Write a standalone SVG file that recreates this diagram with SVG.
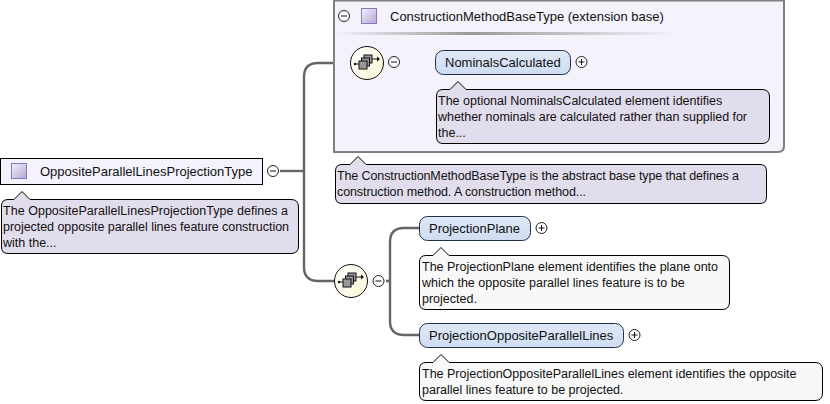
<svg xmlns="http://www.w3.org/2000/svg" width="830" height="404" viewBox="0 0 830 404">
<style>
text{font-family:"Liberation Sans",Arial,sans-serif;font-size:13px;fill:#111}
text.d{font-size:12.5px}
.doc{fill:#e2dded;stroke:#000;stroke-width:1}
.wdoc{fill:#f8f8f8;stroke:#000;stroke-width:1}
.el{fill:url(#elg);stroke:#1f2f4a;stroke-width:1}
.conn{fill:none;stroke:#666;stroke-width:2.4}
.thin{fill:none;stroke:#888;stroke-width:1}
.tg{fill:#fff;stroke:#222;stroke-width:1}
.tl{stroke:#111;stroke-width:1;fill:none}
.sq{fill:url(#sqg);stroke:#8a78b8;stroke-width:1}
.seq{fill:url(#seqg);stroke:#111;stroke-width:1}
.ic{fill:#999;stroke:#111;stroke-width:1}
</style>
<defs>
<linearGradient id="elg" x1="0" y1="0" x2="0" y2="1"><stop offset="0" stop-color="#dfe8f6"/><stop offset="1" stop-color="#cfdcf2"/></linearGradient>
<linearGradient id="sqg" x1="0" y1="0" x2="1" y2="1"><stop offset="0" stop-color="#f4f1fb"/><stop offset="1" stop-color="#b3a6d6"/></linearGradient>
<linearGradient id="seqg" x1="0" y1="0" x2="1" y2="1"><stop offset="0" stop-color="#ffffff"/><stop offset="1" stop-color="#f9f6d4"/></linearGradient>
<linearGradient id="sep" x1="0" y1="0" x2="1" y2="0"><stop offset="0" stop-color="#f4f2fa"/><stop offset=".4" stop-color="#999"/><stop offset="1" stop-color="#f4f2fa"/></linearGradient>
<g id="minus"><circle r="5.5" class="tg"/><path class="tl" d="M-3 0H3"/></g>
<g id="plus"><circle r="5.5" class="tg"/><path class="tl" d="M-3 0H3M0-3V3"/></g>
<g id="seqi"><circle r="16.5" class="seq"/><path class="tl" d="M-12 1H-8M5-4H10"/><path d="M10-6.500L13-4 10-1.500Z" fill="#111"/><circle cx="-12" cy="1" r="1.200" fill="#111"/><rect x="-3" y="-8" width="8" height="8" class="ic"/><rect x="-5.500" y="-5" width="8" height="8" class="ic"/><rect x="-8" y="-2" width="8" height="8" class="ic"/></g>
</defs>

<g id="connectors">
<path class="conn" d="M280 171H304"/>
<path class="conn" d="M335 63H318Q304 63 304 77V267Q304 281 318 281H335"/>
<path class="thin" d="M400 62H435"/>
<path class="conn" d="M386 281H390M419 228H404Q390 228 390 242V321Q390 335 404 335H419"/>
</g>

<g id="base-type">
<path d="M334 0.500V152H778Q784 152 784 146V0.500Z" fill="#f4f2fa" stroke="#808080" stroke-width="2"/>
<rect x="336" y="32" width="338" height="3" fill="url(#sep)"/>
<use href="#minus" x="344" y="16"/>
<rect x="361.500" y="8.500" width="15" height="15" class="sq"/>
<text x="390" y="21">ConstructionMethodBaseType (extension base)</text>
</g>

<g id="root-node">
<rect x="0.500" y="158.500" width="262" height="26" fill="#f4f2fa" stroke="#000"/>
<rect x="11.500" y="163.500" width="15" height="15" class="sq"/>
<text x="40" y="176">OppositeParallelLinesProjectionType</text>
<use href="#minus" x="273" y="171"/>
</g>
<g id="root-doc">
<path class="doc" d="M8 199.500H14L22 191.500 30 199.500H291Q298.500 199.500 298.500 207V246Q298.500 253.500 291 253.500H8Q1.500 253.500 1.500 247V206Q1.500 199.500 8 199.500Z"/>
<text class="d" x="3" y="215" textLength="285">The OppositeParallelLinesProjectionType defines a</text>
<text class="d" x="3" y="231" textLength="286">projected opposite parallel lines feature construction</text>
<text class="d" x="3" y="247">with the...</text>
</g>

<g id="base-doc">
<path class="doc" d="M342 164.500H350L358 156.500 366 164.500H760Q766.500 164.500 766.500 171V197Q766.500 203.500 760 203.500H342Q335.500 203.500 335.500 197V171Q335.500 164.500 342 164.500Z"/>
<text class="d" x="337" y="180" textLength="402">The ConstructionMethodBaseType is the abstract base type that defines a</text>
<text class="d" x="337" y="196" textLength="249">construction method. A construction method...</text>
</g>

<g id="seq-top">
<use href="#seqi" x="367" y="63"/>
<use href="#minus" x="394" y="62"/>
</g>
<g id="nominals">
<rect x="435.500" y="50.500" width="135" height="24" rx="8" class="el"/>
<text x="445" y="67">NominalsCalculated</text>
<use href="#plus" x="581.500" y="62"/>
</g>
<g id="nominals-doc">
<path class="doc" d="M443 89.500H450L458 81.500 466 89.500H762Q769.500 89.500 769.500 97V136Q769.500 143.500 762 143.500H443Q436.500 143.500 436.500 137V96Q436.500 89.500 443 89.500Z"/>
<text class="d" x="438" y="105">The optional NominalsCalculated element identifies</text>
<text class="d" x="438" y="121" textLength="309">whether nominals are calculated rather than supplied for</text>
<text class="d" x="438" y="137">the...</text>
</g>

<g id="seq-bottom">
<use href="#seqi" x="351" y="281"/>
<use href="#minus" x="378.500" y="281"/>
</g>
<g id="projection-plane">
<rect x="419.500" y="216.500" width="111" height="24" rx="8" class="el"/>
<text x="429" y="233">ProjectionPlane</text>
<use href="#plus" x="541.500" y="228"/>
</g>
<g id="plane-doc">
<path class="wdoc" d="M426 255.500H433L441 247.500 449 255.500H722Q729.500 255.500 729.500 263V302Q729.500 309.500 722 309.500H426Q419.500 309.500 419.500 303V262Q419.500 255.500 426 255.500Z"/>
<text class="d" x="422" y="271">The ProjectionPlane element identifies the plane onto</text>
<text class="d" x="422" y="287">which the opposite parallel lines feature is to be</text>
<text class="d" x="422" y="303">projected.</text>
</g>
<g id="projection-lines">
<rect x="419.500" y="323.500" width="204" height="24" rx="8" class="el"/>
<text x="429" y="340">ProjectionOppositeParallelLines</text>
<use href="#plus" x="634.500" y="335"/>
</g>
<g id="lines-doc">
<path class="wdoc" d="M426 362.500H433L441 354.500 449 362.500H815Q822.500 362.500 822.500 370V393Q822.500 400.500 815 400.500H426Q419.500 400.500 419.500 394V369Q419.500 362.500 426 362.500Z"/>
<text class="d" x="422" y="378">The ProjectionOppositeParallelLines element identifies the opposite</text>
<text class="d" x="422" y="394">parallel lines feature to be projected.</text>
</g>
</svg>
